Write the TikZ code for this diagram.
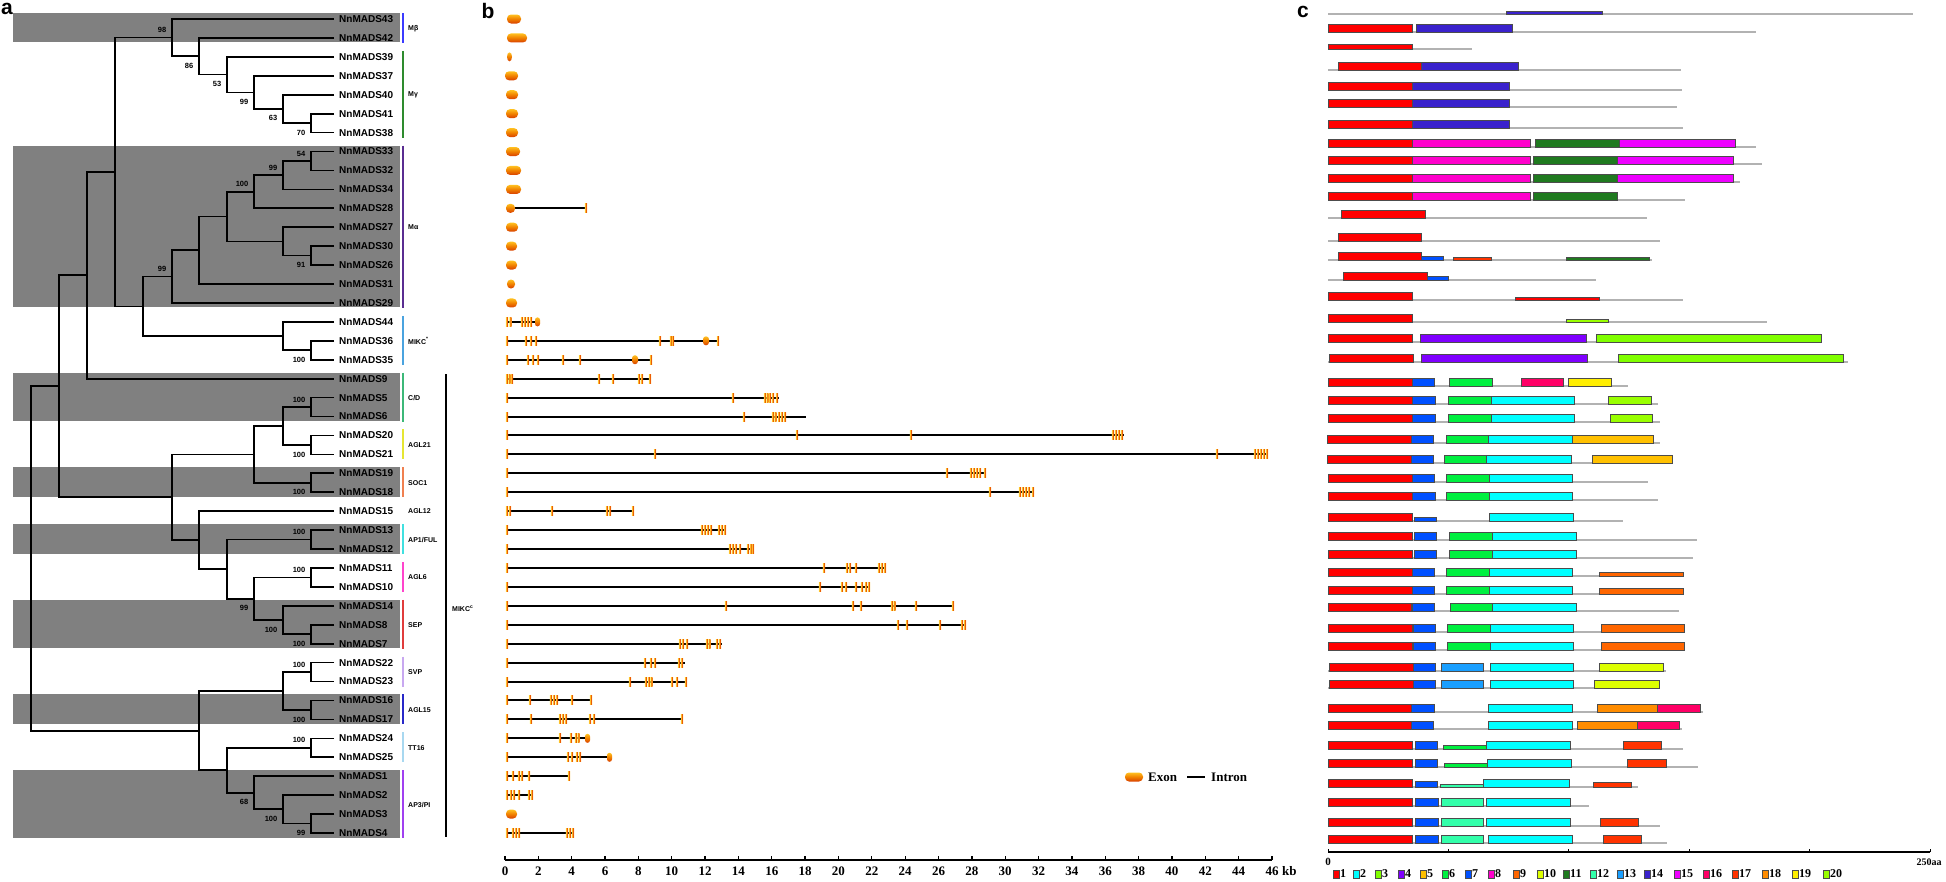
\documentclass[tikz,border=0pt]{standalone}
\usepackage{fontspec}
\setmainfont{Liberation Serif}
\setsansfont{Liberation Sans}
\usetikzlibrary{calc}
\definecolor{m1}{HTML}{FF0000}\definecolor{m2}{HTML}{00FFFF}\definecolor{m3}{HTML}{80FF00}
\definecolor{m4}{HTML}{7F00FF}\definecolor{m5}{HTML}{FFC000}\definecolor{m6}{HTML}{00F040}
\definecolor{m7}{HTML}{0050FF}\definecolor{m8}{HTML}{FF00CC}\definecolor{m9}{HTML}{FF6600}
\definecolor{m10}{HTML}{DDFF00}\definecolor{m11}{HTML}{1F7A1F}\definecolor{m12}{HTML}{33FFAA}
\definecolor{m13}{HTML}{1A9FFF}\definecolor{m14}{HTML}{3A22CC}\definecolor{m15}{HTML}{EE00FF}
\definecolor{m16}{HTML}{FF0066}\definecolor{m17}{HTML}{FF3300}\definecolor{m18}{HTML}{FF8C00}
\definecolor{m19}{HTML}{FFEE00}\definecolor{m20}{HTML}{99FF00}
\definecolor{bandgray}{HTML}{808080}
\definecolor{exT}{HTML}{FFC020}\definecolor{exM}{HTML}{F08000}\definecolor{exB}{HTML}{D84000}
\definecolor{tkE}{HTML}{FFC830}\definecolor{tkM}{HTML}{E85000}
\definecolor{cMb}{HTML}{3B3BFF}\definecolor{cMg}{HTML}{2E8B2E}\definecolor{cMa}{HTML}{5A2D91}
\definecolor{cMs}{HTML}{4AA3DF}\definecolor{cCD}{HTML}{3CB878}\definecolor{cA21}{HTML}{E6E632}
\definecolor{cSOC}{HTML}{F08050}\definecolor{cAP1}{HTML}{40E0E0}\definecolor{cA6}{HTML}{FF44CC}
\definecolor{cSEP}{HTML}{E03C3C}\definecolor{cSVP}{HTML}{C8A8F0}\definecolor{cA15}{HTML}{2828C8}
\definecolor{cTT}{HTML}{A8D8F0}\definecolor{cAP3}{HTML}{A040F0}
\newcommand\Y[1]{\csname Y#1\endcsname}
\newcommand\jn[4]{\path let \p1=(#3), \p2=(#4) in (#2pt,{0.5*\y1+0.5*\y2}) coordinate (#1);
  \draw[br] (#3) -| (#1) |- (#4);}
\newcommand\bs[3]{\node[bsl] at ([xshift=-5.5pt,yshift=#2pt]#1) {#3};}
\newcommand\gband[2]{\fill[gbandst] (13,{\Y{#1}-6}) rectangle (400,{\Y{#2}+4.5});}
\newcommand\clade[5]{\draw[cbar,#3] (403,{\Y{#1}-6}) -- (403,{\Y{#2}+5});
  \node[clab] (#5) at (408,{(\Y{#1}+\Y{#2})/2}) {#4};}
\newcommand\gene[3]{\edef\gy{\Y{#1}}\draw[intron] (506,\gy) -- (#2,\gy);
  \foreach \t in {#3}{\shade[extick] (\t-1.1,\gy-4.5) rectangle (\t+1.1,\gy+4.5);}}
\newcommand\bex[4]{\edef\gy{\Y{#1}}\shade[exon,rounded corners=#4] (#2,\gy-4.5) rectangle (#3,\gy+4.5);}
\newcommand\prot[3]{\draw[bbone] (1328,#1) -- (#2,#1);
  \foreach \mc/\mxa/\mxb/\mh in {#3}{\filldraw[mot,fill=\mc] (\mxa,#1) rectangle (\mxb,#1-\mh);}}
\tikzset{
 br/.style={line width=1.7pt,black},
 gbandst/.style={fill=bandgray},
 leaf/.style={anchor=west,inner sep=0pt,font=\sffamily\bfseries\fontsize{10}{10}\selectfont},
 bsl/.style={anchor=east,inner sep=0pt,font=\sffamily\bfseries\fontsize{7.5}{8}\selectfont},
 cbar/.style={line width=1.5pt},
 clab/.style={anchor=west,inner sep=0pt,font=\sffamily\bfseries\fontsize{7}{8}\selectfont},
 intron/.style={line width=2pt,black},
 exon/.style={top color=exT,bottom color=exB,middle color=exM},
 extick/.style={left color=tkE,right color=tkE,middle color=tkM},
 bbone/.style={line width=1.2pt,color=black!30},
 mot/.style={draw=black!70,line width=0.5pt},
 axl/.style={inner sep=0pt,font=\rmfamily\bfseries\fontsize{13}{13}\selectfont},
 legc/.style={anchor=west,inner sep=0.5pt,font=\rmfamily\bfseries\fontsize{12}{12}\selectfont},
 plab/.style={inner sep=0pt,font=\sffamily\bfseries\fontsize{21}{21}\selectfont},
}
\begin{document}
\begin{tikzpicture}[x=1pt,y=-1pt]
\fill[white] (0,0) rectangle (1946,881);
\path[use as bounding box] (0,0) rectangle (1946,881);
\def\leaves{43,42,39,37,40,41,38,33,32,34,28,27,30,26,31,29,44,36,35,9,5,6,20,21,19,18,15,13,12,11,10,14,8,7,22,23,16,17,24,25,1,2,3,4}
\foreach \n [count=\i from 0] in \leaves {\pgfmathsetmacro\yy{19+18.93*\i}\expandafter\xdef\csname Y\n\endcsname{\yy}}
% bands
\gband{43}{42}\gband{33}{29}\gband{9}{6}\gband{19}{18}\gband{13}{12}\gband{14}{7}\gband{16}{17}\gband{1}{4}
% leaves
\foreach \n in \leaves {\coordinate (L\n) at (334,\Y{\n}); \node[leaf] (N\n) at (339,\Y{\n}) {NnMADS\n};}
% tree
\jn{n70}{311}{L41}{L38}\jn{n63}{283}{L40}{n70}\jn{n99a}{254}{L37}{n63}\jn{n53}{227}{L39}{n99a}
\jn{n86}{199}{L42}{n53}\jn{n98}{172}{L43}{n86}
\jn{n54}{311}{L33}{L32}\jn{n99b}{283}{n54}{L34}\jn{n100a}{254}{n99b}{L28}\jn{n91}{311}{L30}{L26}
\jn{nq1}{283}{L27}{n91}\jn{nq2}{227}{n100a}{nq1}\jn{nq3}{199}{nq2}{L31}\jn{nMa}{172}{nq3}{L29}
\jn{n3635}{311}{L36}{L35}\jn{nMs}{283}{L44}{n3635}
\jn{nA1b}{143}{nMa}{nMs}\jn{nA1a}{115}{n98}{nA1b}\jn{nA1}{87}{nA1a}{L9}
\jn{n56}{311}{L5}{L6}\jn{n2021}{311}{L20}{L21}\jn{nq4}{283}{n56}{n2021}\jn{n1918}{311}{L19}{L18}
\jn{nq5}{254}{nq4}{n1918}\jn{n1312}{311}{L13}{L12}\jn{n1110}{311}{L11}{L10}\jn{n87}{311}{L8}{L7}
\jn{nq6}{283}{L14}{n87}\jn{nq7}{254}{n1110}{nq6}\jn{nq8}{227}{n1312}{nq7}\jn{nq9}{199}{L15}{nq8}
\jn{nA2}{172}{nq5}{nq9}\jn{nA}{59}{nA1}{nA2}
\jn{n2223}{311}{L22}{L23}\jn{n1617}{311}{L16}{L17}\jn{nq10}{283}{n2223}{n1617}
\jn{n2425}{311}{L24}{L25}\jn{n34}{311}{L3}{L4}\jn{nq11}{283}{L2}{n34}\jn{nq12}{254}{L1}{nq11}
\jn{nq13}{227}{n2425}{nq12}\jn{nB}{199}{nq10}{nq13}\jn{nR}{31}{nA}{nB}
% bootstrap
\bs{n98}{7.5}{98}\bs{n86}{-9.5}{86}\bs{n53}{-9.5}{53}\bs{n99a}{-9.5}{99}\bs{n63}{-9.5}{63}\bs{n70}{-9.5}{70}
\bs{n54}{7.5}{54}\bs{n99b}{7.5}{99}\bs{n100a}{7.5}{100}\bs{n91}{-9.5}{91}\bs{nMa}{7.5}{99}
\bs{n3635}{-9.5}{100}\bs{n56}{7.5}{100}\bs{n2021}{-9.5}{100}\bs{n1918}{-9.5}{100}
\bs{n1312}{7.5}{100}\bs{n1110}{7.5}{100}\bs{nq7}{-9.5}{99}\bs{nq6}{-9.5}{100}\bs{n87}{-9.5}{100}
\bs{n2223}{7.5}{100}\bs{n1617}{-9.5}{100}\bs{n2425}{7.5}{100}\bs{nq12}{-9.5}{68}\bs{nq11}{-9.5}{100}\bs{n34}{-9.5}{99}
% clades
\clade{43}{42}{cMb}{Mβ}{kMb}\clade{39}{38}{cMg}{Mγ}{kMg}\clade{33}{29}{cMa}{Mα}{kMa}
\clade{44}{35}{cMs}{MIKC\textsuperscript{*}}{kMs}\clade{9}{6}{cCD}{C/D}{kCD}
\clade{20}{21}{cA21}{AGL21}{kA21}\clade{19}{18}{cSOC}{SOC1}{kSOC}
\node[clab] (kA12) at (408,\Y{15}) {AGL12};
\clade{13}{12}{cAP1}{AP1/FUL}{kAP1}\clade{11}{10}{cA6}{AGL6}{kA6}\clade{14}{7}{cSEP}{SEP}{kSEP}
\clade{22}{23}{cSVP}{SVP}{kSVP}\clade{16}{17}{cA15}{AGL15}{kA15}\clade{24}{25}{cTT}{TT16}{kTT}
\clade{1}{4}{cAP3}{AP3/PI}{kAP3}
\draw[line width=1.5pt] (446,374) -- (446,837);
\node[clab] (kMc) at (452,609) {MIKC\textsuperscript{c}};
% panel letters
\node[plab] (pa) at (7,9) {a};\node[plab] (pb) at (488,11) {b};\node[plab] (pc) at (1303,12) {c};
% panel b genes
\bex{43}{507}{521}{4}\bex{42}{507}{527}{4}\shade[exon] (509.5,\Y{39}) ellipse (2.5 and 4.5);
\bex{37}{505}{518}{4}\bex{40}{506}{518}{4}\bex{41}{506}{518}{4}\bex{38}{506}{518}{4}
\bex{33}{506}{520}{4}\bex{32}{506}{521}{4}\bex{34}{506}{521}{4}
\gene{28}{586}{586}\bex{28}{506}{515}{4}
\bex{27}{506}{518}{4}\bex{30}{506}{517}{4}\bex{26}{506}{517}{4}\bex{31}{507}{515}{4}\bex{29}{506}{517}{4}
\gene{44}{539}{507,510.5,522,525,528,531}\bex{44}{535}{540}{2.5}
\gene{36}{718}{507,526,531,536,660,671,673,718}\bex{36}{703}{709}{3}
\gene{35}{651}{507,528,533,538,563,580,651}\bex{35}{632}{638}{3}
\gene{9}{650}{507,509.5,512,599,613,639,642,650}
\gene{5}{779}{507,733,765,767.5,770,773,777}
\gene{6}{806}{507,744,773,775.5,779,782,785}
\gene{20}{1124}{507,797,911,1113,1116,1119,1122}
\gene{21}{1268}{507,655,1217,1255,1258,1261,1264,1267}
\gene{19}{986}{507,947,971,974,977,980,985}
\gene{18}{1034}{507,990,1020,1023,1026,1029,1033}
\gene{15}{634}{507,510,552,607,610,633}
\gene{13}{725}{507,702,705,708,711,719,722,725}
\gene{12}{753}{507,730,733,736,740,748,751,753}
\gene{11}{885}{507,824,847,850,856,879,882,885}
\gene{10}{869}{507,820,842,846,856,862,866,869}
\gene{14}{953}{507,726,853,861,892,894.5,916,953}
\gene{8}{966}{507,898,907,940,962,965}
\gene{7}{722}{507,680,683,687,707,709.5,717,720}
\gene{22}{685}{507,645,651,655,679,682}
\gene{23}{686}{507,630,646,649,651.5,672,677,686}
\gene{16}{591}{507,530,551,554,557,572,591}
\gene{17}{682}{507,531,560,563,566,590,594,682}
\gene{24}{586}{507,560,571,576,578.5}\bex{24}{585}{590}{2.5}
\gene{25}{608}{507,568,572,577,580}\bex{25}{607}{612}{2.5}
\gene{1}{569}{507,513,519,522,529,569}
\gene{2}{532}{507,511,514,519,529,532}
\bex{3}{506}{517}{4}
\gene{4}{573}{507,513,516,519,567,570,573}
% legend b
\shade[exon,rounded corners=4] (1125,772.5) rectangle (1143,781.5);
\node[axl,anchor=west] (lex) at (1148,777) {Exon};
\draw[intron,line width=2pt] (1187,777) -- (1205,777);
\node[axl,anchor=west] (lin) at (1211,777) {Intron};
% axis b
\draw[line width=2pt] (505,860) -- (1272,860);
\foreach \k in {0,2,...,46}{\draw[line width=1.3pt] (505+16.674*\k,860) -- ++(0,-4);
  \node[axl] at (505+16.674*\k,871) {\k};}
\node[axl,anchor=west] (kb) at (1282,871) {kb};
% panel c
\prot{14}{1913}{m14/1506/1602/3}
\prot{32}{1756}{m1/1328/1412/8,m14/1416/1512/8}
\prot{49}{1472}{m1/1328/1412/5}
\prot{70}{1681}{m1/1338/1421/8,m14/1421/1518/8}
\prot{90}{1682}{m1/1328/1412/8,m14/1412/1509/8}
\prot{107}{1677}{m1/1328/1412/8,m14/1412/1509/8}
\prot{128}{1683}{m1/1328/1412/8,m14/1412/1509/8}
\prot{147}{1756}{m1/1328/1412/8,m8/1412/1530/8,m11/1535/1619/8,m15/1619/1735/8}
\prot{164}{1762}{m1/1328/1412/8,m8/1412/1530/8,m11/1533/1617/8,m15/1617/1733/8}
\prot{182}{1740}{m1/1328/1412/8,m8/1412/1530/8,m11/1533/1617/8,m15/1617/1733/8}
\prot{200}{1685}{m1/1328/1412/8,m8/1412/1530/8,m11/1533/1617/8}
\prot{218}{1647}{m1/1341/1425/8}
\prot{241}{1660}{m1/1338/1421/8}
\prot{260}{1652}{m1/1338/1421/8,m7/1421/1443/4,m17/1453/1491/3,m11/1566/1649/3}
\prot{280}{1596}{m1/1343/1427/8,m7/1427/1448/4}
\prot{300}{1683}{m1/1328/1412/8,m1/1515/1599/3}
\prot{322}{1767}{m1/1328/1412/8,m20/1566/1608/3}
\prot{342}{1821}{m1/1328/1412/8,m4/1420/1586/8,m3/1596/1821/8}
\prot{362}{1848}{m1/1329/1413/8,m4/1421/1587/8,m3/1618/1843/8}
\prot{386}{1628}{m1/1328/1412/8,m7/1412/1434/8,m6/1449/1492/8,m16/1521/1563/8,m19/1568/1611/8}
\prot{404}{1658}{m1/1328/1412/8,m7/1412/1435/8,m6/1448/1491/8,m2/1491/1574/8,m20/1608/1651/8}
\prot{422}{1660}{m1/1328/1412/8,m7/1412/1435/8,m6/1448/1491/8,m2/1491/1574/8,m20/1610/1652/8}
\prot{443}{1660}{m1/1327/1411/8,m7/1411/1433/8,m6/1446/1488/8,m2/1488/1572/8,m5/1572/1653/8}
\prot{463}{1672}{m1/1327/1411/8,m7/1411/1433/8,m6/1444/1486/8,m2/1486/1571/8,m5/1592/1672/8}
\prot{482}{1648}{m1/1328/1412/8,m7/1412/1434/8,m6/1446/1489/8,m2/1489/1572/8}
\prot{500}{1658}{m1/1328/1412/8,m7/1412/1435/8,m6/1446/1489/8,m2/1489/1572/8}
\prot{521}{1623}{m1/1328/1412/8,m7/1414/1436/4,m2/1489/1573/8}
\prot{540}{1697}{m1/1328/1412/8,m7/1414/1436/8,m6/1449/1492/8,m2/1492/1576/8}
\prot{558}{1693}{m1/1328/1412/8,m7/1414/1436/8,m6/1449/1492/8,m2/1492/1576/8}
\prot{576}{1683}{m1/1328/1412/8,m7/1412/1434/8,m6/1446/1489/8,m2/1489/1572/8,m9/1599/1683/4}
\prot{594}{1683}{m1/1328/1412/8,m7/1412/1434/8,m6/1446/1489/8,m2/1489/1572/8,m9/1599/1683/6}
\prot{611}{1679}{m1/1328/1411/8,m7/1412/1434/8,m6/1450/1492/8,m2/1492/1576/8}
\prot{632}{1684}{m1/1328/1412/8,m7/1413/1435/8,m6/1447/1490/8,m2/1490/1573/8,m9/1601/1684/8}
\prot{650}{1685}{m1/1328/1412/8,m7/1413/1435/8,m6/1447/1490/8,m2/1490/1573/8,m9/1601/1684/8}
\prot{671}{1666}{m1/1329/1413/8,m7/1413/1435/8,m13/1441/1483/8,m2/1490/1573/8,m10/1599/1663/8}
\prot{688}{1659}{m1/1329/1413/8,m7/1413/1435/8,m13/1441/1483/8,m2/1490/1573/8,m10/1594/1659/8}
\prot{712}{1703}{m1/1328/1411/8,m7/1411/1434/8,m2/1488/1572/8,m18/1597/1657/8,m16/1657/1700/8}
\prot{729}{1682}{m1/1328/1411/8,m7/1411/1433/8,m2/1488/1572/8,m18/1577/1637/8,m16/1637/1679/8}
\prot{749}{1683}{m1/1328/1412/8,m7/1415/1437/8,m6/1443/1486/4,m2/1486/1570/8,m17/1623/1661/8}
\prot{767}{1698}{m1/1328/1412/8,m7/1415/1437/8,m6/1444/1487/4,m2/1487/1571/8,m17/1627/1666/8}
\prot{787}{1638}{m1/1328/1412/8,m7/1415/1437/6,m12/1440/1483/3,m2/1483/1569/8,m17/1593/1631/5}
\prot{806}{1589}{m1/1328/1412/8,m7/1415/1438/8,m12/1441/1483/8,m2/1486/1570/8}
\prot{826}{1660}{m1/1328/1412/8,m7/1415/1438/8,m12/1441/1483/8,m2/1486/1570/8,m17/1600/1638/8}
\prot{843}{1667}{m1/1328/1412/8,m7/1415/1438/8,m12/1441/1483/8,m2/1488/1572/8,m17/1603/1641/8}
% axis c
\draw[line width=1.5pt] (1328,852) -- (1930,852);
\foreach \k in {0,...,5}{\draw[line width=1pt] (1328+120.4*\k,852) -- ++(0,-3);}
\node[axl,font=\rmfamily\bfseries\fontsize{11}{11}\selectfont] (c0) at (1328,862) {0};
\node[axl,font=\rmfamily\bfseries\fontsize{10}{10}\selectfont] (c250) at (1929,862) {250aa};
\foreach \k/\x in {1/1333,2/1353,3/1375,4/1398,5/1420,6/1442,7/1465,8/1488,9/1513,10/1537,11/1563,12/1590,13/1617,14/1644,15/1674,16/1703,17/1732,18/1762,19/1792,20/1823}
 {\filldraw[mot,fill=m\k] (\x,870) rectangle (\x+6.5,878); \node[legc] at (\x+6.5,874) {\k};}
\end{tikzpicture}
\end{document}
